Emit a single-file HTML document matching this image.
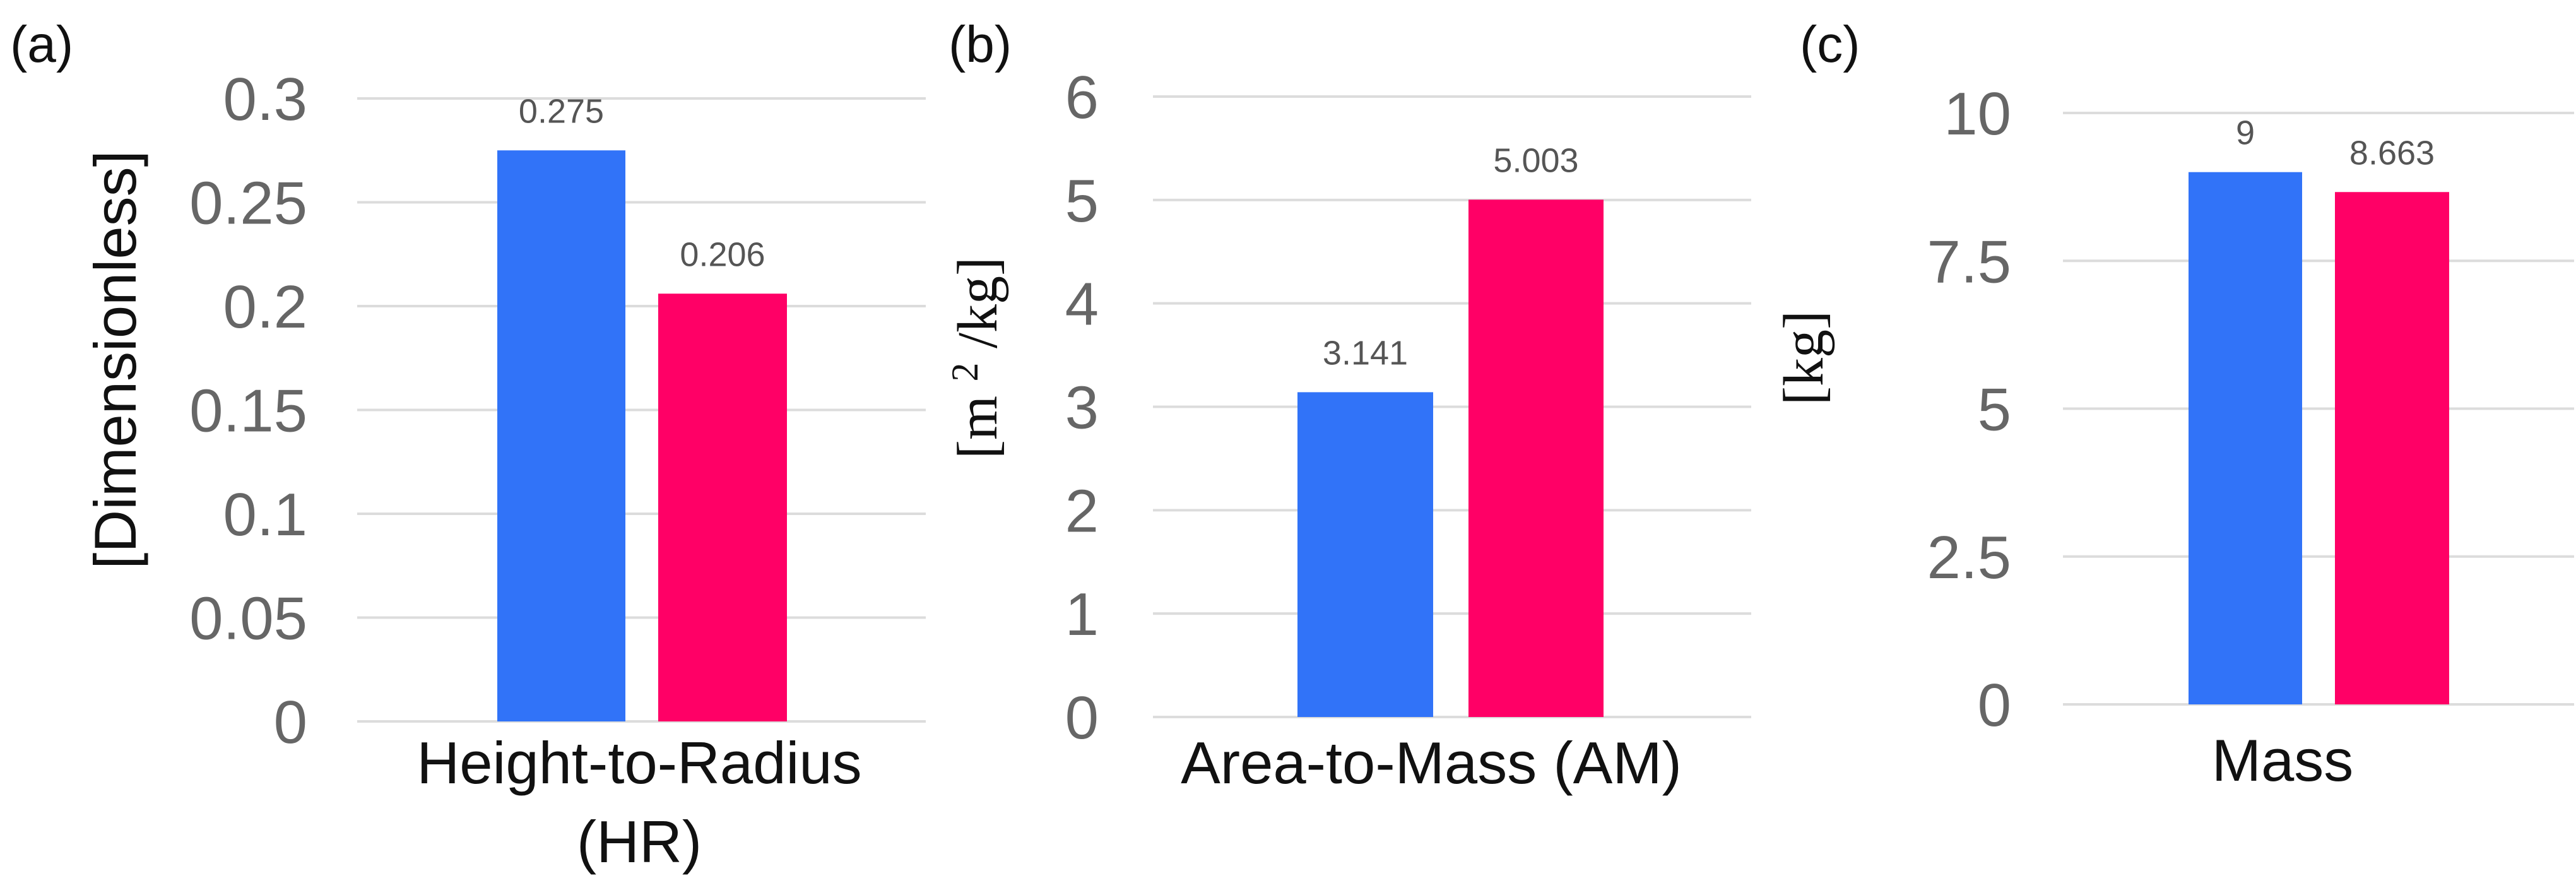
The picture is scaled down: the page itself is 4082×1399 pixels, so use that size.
<!DOCTYPE html>
<html><head><meta charset="utf-8"><style>
html,body{margin:0;padding:0;background:#fff;}
svg{display:block;font-family:"Liberation Sans",Arial,sans-serif;}
</style></head><body>
<svg id="chart" width="4082" height="1399" viewBox="0 0 4082 1399"></svg>
<script>
const panelLetters = ["(a)", "(b)", "(c)"];
const categoryLabelsA = ["Height-to-Radius", "(HR)"];
const categoryLabelsB = ["Area-to-Mass (AM)"];
const categoryLabelsC = ["Mass"];
const valuesA = [0.275, 0.206];
const valuesB = [3.141, 5.003];
const valuesC = [9, 8.663];
const valueLabelsA = ["0.275", "0.206"];
const valueLabelsB = ["3.141", "5.003"];
const valueLabelsC = ["9", "8.663"];
const ticksA = [0, 0.05, 0.1, 0.15, 0.2, 0.25, 0.3];
const tickLabelsA = ["0", "0.05", "0.1", "0.15", "0.2", "0.25", "0.3"];
const ticksB = [0, 1, 2, 3, 4, 5, 6];
const tickLabelsB = ["0", "1", "2", "3", "4", "5", "6"];
const ticksC = [0, 2.5, 5, 7.5, 10];
const tickLabelsC = ["0", "2.5", "5", "7.5", "10"];

const NS = "http://www.w3.org/2000/svg";
const svg = document.getElementById("chart");
const colors = ["#3173F8", "#FF0066"];

function mk(tag, attrs, parent) {
  const e = document.createElementNS(NS, tag);
  for (const k in attrs) e.setAttribute(k, attrs[k]);
  parent.appendChild(e);
  return e;
}

const panels = [
  {id:"a", letterX:16, gx0:566, gx1:1467, y0:1143, y1:156, max:0.3, tickX:487,
   titleX:183, titleY:570, title:"[Dimensionless]", serif:false,
   bars:[[788,991],[1043,1247]], vals:valuesA, vlabels:valueLabelsA, ticks:ticksA, tlabels:tickLabelsA,
   cx:1013, cats:categoryLabelsA, catY:1241},
  {id:"b", letterX:1503, gx0:1827, gx1:2775, y0:1136, y1:153, max:6, tickX:1741,
   titleX:1547, titleY:567, title:"m2kg", serif:true,
   bars:[[2056,2271],[2327,2541]], vals:valuesB, vlabels:valueLabelsB, ticks:ticksB, tlabels:tickLabelsB,
   cx:2268, cats:categoryLabelsB, catY:1241},
  {id:"c", letterX:2852, gx0:3269, gx1:4079, y0:1116, y1:179, max:10, tickX:3187,
   titleX:2856, titleY:567, title:"[kg]", serif:true,
   bars:[[3468,3648],[3700,3881]], vals:valuesC, vlabels:valueLabelsC, ticks:ticksC, tlabels:tickLabelsC,
   cx:3617, cats:categoryLabelsC, catY:1237}
];

panels.forEach((p, pi) => {
  const g = mk("g", {}, svg);
  
  
  const yScale = v => p.y0 - (v / p.max) * (p.y0 - p.y1);

  const L = mk("text", {x:p.letterX, y:98, "font-size":82, fill:"#111"}, g);
  L.textContent = panelLetters[pi];
  
  

  p.ticks.forEach((t, i) => {
    const y = yScale(t);
    const gl = mk("line", {x1:p.gx0, x2:p.gx1, y1:y, y2:y, stroke:"#dcdcdc", "stroke-width":4}, g);
    
    
    const tl = mk("text", {x:p.tickX, y:y + 34, "font-size":96, fill:"#666", "text-anchor":"end"}, g);
    tl.textContent = p.tlabels[i];
    
    
  });

  p.vals.forEach((v, i) => {
    const [x0, x1] = p.bars[i];
    const top = yScale(v);
    const r = mk("rect", {x:x0, y:top, width:x1 - x0, height:p.y0 - top, fill:colors[i]}, g);
    
    
    const vl = mk("text", {x:(x0 + x1) / 2, y:top - 44, "font-size":54, fill:"#555", "text-anchor":"middle"}, g);
    vl.textContent = p.vlabels[i];
    
    
  });

  const yt = mk("text", {x:0, y:0, "font-size":p.serif ? 90 : 94, fill:"#111", "text-anchor":"middle",
    transform:`translate(${p.titleX + 32},${p.titleY}) rotate(-90)`,
    "font-family":p.serif ? "'Liberation Serif',serif" : "'Liberation Sans',sans-serif"}, g);
  if (p.title === "m2kg") {
    yt.appendChild(document.createTextNode("[m "));
    const s = mk("tspan", {"font-size":60, dy:-30}, yt); s.textContent = "2";
    const s2 = mk("tspan", {dy:30}, yt); s2.textContent = " /kg]";
  } else yt.textContent = p.title;
  
  

  p.cats.forEach((c, i) => {
    const ct = mk("text", {x:p.cx, y:p.catY + i * 125, "font-size":94, fill:"#111", "text-anchor":"middle"}, g);
    ct.textContent = c;
    
    
  });
});
</script>
</body></html>
